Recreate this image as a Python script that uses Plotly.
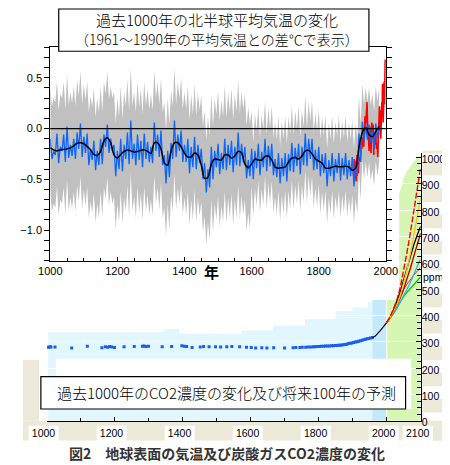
import numpy as np
import plotly.graph_objects as go

# ---------------- Top chart: NH temperature anomaly (deg C vs 1961-1990) ----------------
recon_years = list(range(1000, 1981, 5))
recon_annual = [
    -0.10, -0.30, -0.22, -0.26, -0.05, -0.34, -0.18, -0.22, -0.06, -0.33,
    0.02, -0.29, -0.16, -0.27, -0.10, -0.30, -0.04, -0.20, 0.05, -0.28,
    -0.08, -0.24, -0.05, -0.36, -0.20, -0.31, -0.12, -0.41, -0.22, -0.36,
    -0.10, -0.35, -0.06, -0.18, 0.04, -0.24, -0.10, -0.22, -0.16, -0.47,
    -0.22, -0.40, -0.10, -0.42, -0.16, -0.30, -0.04, -0.35, 0.08, -0.30,
    -0.15, -0.36, -0.06, -0.31, -0.12, -0.38, -0.05, -0.30, -0.13, -0.33,
    -0.18, -0.34, 0.06, -0.22, -0.06, -0.28, -0.02, -0.36, -0.26, -0.54,
    -0.22, -0.48, -0.14, -0.30, 0.08, -0.28, -0.06, -0.22, -0.02, -0.33,
    -0.16, -0.33, -0.10, -0.44, -0.18, -0.38, -0.08, -0.40, -0.16, -0.34,
    -0.20, -0.50, -0.34, -0.63, -0.40, -0.58, -0.18, -0.50, -0.22, -0.38,
    -0.15, -0.45, -0.24, -0.40, -0.10, -0.41, -0.16, -0.36, -0.12, -0.43,
    -0.18, -0.36, -0.04, -0.37, -0.15, -0.33, -0.18, -0.49, -0.31, -0.47,
    -0.20, -0.50, -0.22, -0.39, -0.15, -0.46, -0.23, -0.38, -0.10, -0.42,
    -0.17, -0.37, -0.15, -0.46, -0.30, -0.48, -0.24, -0.54, -0.29, -0.47,
    -0.24, -0.52, -0.25, -0.42, -0.14, -0.43, -0.19, -0.37, -0.15, -0.45,
    -0.18, -0.36, -0.05, -0.37, -0.10, -0.30, -0.10, -0.41, -0.21, -0.40,
    -0.18, -0.47, -0.25, -0.44, -0.24, -0.57, -0.31, -0.47, -0.24, -0.52,
    -0.30, -0.44, -0.24, -0.51, -0.29, -0.46, -0.24, -0.50, -0.31, -0.47,
    -0.28, -0.57, -0.32, -0.47, -0.05, -0.33, 0.07, -0.13, 0.04, -0.11,
    0.04, -0.14, -0.03, -0.20, 0.05, -0.10, 0.03,
]
smooth_years = list(range(1000, 1981, 10))
smooth_values = [
    -0.19, -0.21, -0.22, -0.21, -0.205, -0.20, -0.19, -0.17, -0.145, -0.14,
    -0.15, -0.175, -0.21, -0.255, -0.265, -0.225, -0.12, -0.09, -0.14, -0.26,
    -0.29, -0.255, -0.225, -0.21, -0.22, -0.23, -0.225, -0.215, -0.21, -0.225,
    -0.245, -0.14, -0.14, -0.20, -0.34, -0.36, -0.22, -0.14, -0.14, -0.18,
    -0.245, -0.28, -0.28, -0.24, -0.26, -0.36, -0.49, -0.48, -0.35, -0.30,
    -0.305, -0.31, -0.26, -0.26, -0.29, -0.27, -0.225, -0.24, -0.35, -0.385,
    -0.35, -0.30, -0.31, -0.31, -0.275, -0.27, -0.31, -0.38, -0.39, -0.385,
    -0.38, -0.33, -0.29, -0.285, -0.30, -0.27, -0.22, -0.215, -0.25, -0.30,
    -0.32, -0.34, -0.39, -0.39, -0.38, -0.37, -0.375, -0.375, -0.37, -0.38,
    -0.41, -0.39, -0.18, -0.04, 0.01, -0.06, -0.08, -0.03, 0.02,
]
instr_years = [1902, 1904, 1906, 1908, 1910, 1912, 1914, 1916, 1918, 1920,
               1922, 1924, 1926, 1928, 1930, 1932, 1934, 1936, 1938, 1940,
               1942, 1944, 1946, 1948, 1950, 1952, 1954, 1956, 1958, 1960,
               1962, 1964, 1966, 1968, 1970, 1972, 1974, 1976, 1978, 1980,
               1981, 1982, 1983, 1984, 1985, 1986, 1987, 1988, 1989, 1990,
               1991, 1992, 1993, 1994, 1995, 1996, 1997, 1998]
instr_values = [-0.38, -0.46, -0.30, -0.50, -0.44, -0.52, -0.26, -0.40, -0.44, -0.30,
                -0.28, -0.32, -0.14, -0.20, -0.12, -0.08, -0.18, -0.04, 0.12, 0.04,
                0.18, 0.26, -0.02, -0.06, -0.22, 0.02, -0.10, -0.24, 0.06, -0.02,
                0.04, -0.26, -0.08, -0.16, -0.04, -0.20, -0.16, -0.28, -0.06, 0.10,
                0.22, -0.02, 0.18, -0.06, -0.10, 0.08, 0.20, 0.26, 0.18, 0.44,
                0.34, 0.06, 0.12, 0.28, 0.46, 0.24, 0.46, 0.68]
unc_start_years = [1000, 1600]
unc_halfwidth = [0.52, 0.37]

temp_xticks = [1000, 1200, 1400, 1600, 1800, 2000]
temp_yticks = [-1.0, -0.5, 0.0, 0.5]
temp_yticktext = ["\u22121.0", "\u22120.5", "0.0", "0.5"]

# ---------------- Bottom chart: CO2 concentration (ppm) ----------------
co2_ice_years = [1006, 1010, 1013, 1025, 1074, 1120, 1163, 1173, 1180, 1186, 1192, 1200,
                 1228, 1258, 1282, 1287, 1292, 1300, 1340, 1368, 1398, 1405, 1412, 1428,
                 1452, 1462, 1478, 1497, 1512, 1530, 1545, 1568, 1588, 1602, 1615, 1633,
                 1648, 1668, 1700, 1725, 1733, 1745, 1752, 1762, 1770, 1778, 1785, 1790,
                 1796, 1802, 1808, 1815, 1820, 1826, 1832, 1838, 1843, 1848, 1853, 1858,
                 1863, 1868, 1873, 1878, 1883, 1888, 1893, 1898, 1903, 1908, 1913, 1918,
                 1923, 1928, 1933, 1938, 1943, 1948, 1953, 1958]
co2_ice_ppm = [279, 281, 280, 280, 276, 283, 277, 281, 279, 282, 280, 278,
               281, 282, 283, 284, 282, 283, 281, 282, 285, 283, 282, 278,
               280, 282, 281, 281, 280, 281, 282, 281, 279, 278, 276, 277,
               276, 277, 276, 277, 278, 278, 279, 279, 280, 280, 281, 281,
               282, 282, 283, 283, 284, 284, 284, 285, 285, 286, 286, 287,
               287, 288, 289, 290, 291, 293, 294, 295, 297, 299, 300, 302,
               304, 306, 308, 310, 311, 312, 314, 316]
co2_obs_years = [1958, 1965, 1970, 1975, 1980, 1985, 1990, 1995, 2000]
co2_obs_ppm = [316, 320, 326, 332, 340, 348, 356, 364, 373]

scen_years = [2000, 2010, 2020, 2030, 2040, 2050, 2060, 2070, 2080, 2090, 2100]
scen_a1fi = [373, 394, 424, 458, 505, 570, 640, 715, 792, 876, 962]
scen_a2 = [373, 391, 414, 440, 474, 522, 575, 635, 702, 772, 845]
scen_a1b = [373, 392, 420, 452, 490, 534, 580, 625, 668, 705, 738]
scen_is92a = [373, 390, 412, 437, 466, 500, 538, 580, 625, 668, 712]
scen_b2 = [373, 388, 406, 426, 449, 473, 499, 526, 555, 585, 615]
scen_a1t = [373, 392, 417, 445, 473, 498, 519, 537, 553, 568, 582]
scen_b1 = [373, 390, 410, 430, 452, 471, 488, 503, 517, 530, 546]

# background regions of the CO2 panel
past_band_years = [1005, 1300, 1345, 1390, 1480, 1575, 1665, 1760, 1850, 1900, 1945, 1958]
past_band_top = [336, 336, 348, 330, 329, 343, 361, 385, 417, 430, 448, 448]
recent_band_years = [1958, 2000]
recent_band_top = 459
future_years = [2000, 2000, 2037, 2037, 2045, 2050, 2060, 2072, 2085, 2092, 2100, 2100]
future_top = [0, 459, 459, 860, 895, 922, 948, 970, 992, 1002, 1006, 0]

co2_xticks = [1000, 1200, 1400, 1600, 1800, 2000, 2100]
co2_yticks = list(range(0, 1001, 100))

# ---------------- geometry helpers (pixels -> paper) ----------------
W, H = 450, 465
def px(x):
    return x / W
def py(y):
    return 1 - y / H

CO2_L, CO2_R, CO2_B, CO2_T = 25, 423, 420, 148
TMP_L, TMP_R, TMP_B, TMP_T = 29, 386, 257, 40
CO2_YMAX = 1015

def co2_year_px(yr):
    return CO2_L + (yr - 1000) / 1100 * (CO2_R - CO2_L)

BEIGE = "#ece9d8"
JP = "Noto Sans CJK JP"
NUM = "Liberation Sans"

fig = go.Figure()

# ---- CO2 panel traces (xy) ----
fig.add_trace(go.Scatter(x=co2_ice_years, y=co2_ice_ppm, mode="markers",
                         marker=dict(symbol="square", size=3, color="#1a5ef0", line=dict(width=0)),
                         xaxis="x", yaxis="y", hoverinfo="skip"))
fig.add_trace(go.Scatter(x=co2_obs_years, y=co2_obs_ppm, mode="lines",
                         line=dict(color="black", width=1.2), xaxis="x", yaxis="y", hoverinfo="skip"))
scen_specs = [
    (scen_b1, "#00c800", "solid", 1.2),
    (scen_a1t, "#ff2020", "solid", 1.0),
    (scen_b2, "#30a8ff", "solid", 1.2),
    (scen_is92a, "#c00000", "solid", 1.4),
    (scen_a1b, "#000000", "solid", 1.3),
    (scen_a2, "#ffc000", "solid", 1.3),
    (scen_a1fi, "#ff0000", "6px,2px", 1.4),
]
for vals, col, dash, wd in scen_specs:
    fig.add_trace(go.Scatter(x=scen_years, y=vals, mode="lines",
                             line=dict(color=col, width=wd, dash=dash),
                             xaxis="x", yaxis="y", hoverinfo="skip"))

# ---- Temperature panel traces (x2y2) ----
hw = [unc_halfwidth[int(np.searchsorted(unc_start_years, yr, side="right")) - 1] for yr in recon_years]
lower = [v - h for v, h in zip(recon_annual, hw)]
upper = [v + h for v, h in zip(recon_annual, hw)]
fig.add_trace(go.Scatter(x=recon_years, y=lower, mode="lines", line=dict(width=0, color="#c0c0c0"),
                         xaxis="x2", yaxis="y2", hoverinfo="skip"))
fig.add_trace(go.Scatter(x=recon_years, y=upper, mode="lines", line=dict(width=0, color="#c0c0c0"),
                         fill="tonexty", fillcolor="#c0c0c0", xaxis="x2", yaxis="y2", hoverinfo="skip"))
fig.add_trace(go.Scatter(x=instr_years, y=instr_values, mode="lines",
                         line=dict(color="#ff0000", width=1.6), xaxis="x2", yaxis="y2", hoverinfo="skip"))
fig.add_trace(go.Scatter(x=recon_years, y=recon_annual, mode="lines",
                         line=dict(color="#0a66ff", width=1.3), xaxis="x2", yaxis="y2", hoverinfo="skip"))
fig.add_trace(go.Scatter(x=smooth_years, y=smooth_values, mode="lines",
                         line=dict(color="black", width=1.5, shape="spline", smoothing=0.8),
                         xaxis="x2", yaxis="y2", hoverinfo="skip"))

shapes = []
# beige strips (screenshot background)
for x0, x1, y0, y1 in [(0, 17, 358, 420), (0, 450, 420, 440), (425, 450, 145, 440)]:
    shapes.append(dict(type="rect", xref="paper", yref="paper", x0=px(x0), x1=px(x1),
                       y0=py(y1), y1=py(y0), fillcolor=BEIGE, line=dict(width=0), layer="below"))
# white label boxes on beige
for t in co2_yticks:
    shapes.append(dict(type="rect", xref="paper", yref="y", x0=px(426), x1=px(450),
                       y0=t - 17, y1=t + 31, fillcolor="white", line=dict(width=0), layer="below"))
for t in co2_xticks:
    cx = co2_year_px(t) - 3
    shapes.append(dict(type="rect", xref="paper", yref="paper", x0=px(cx - 16), x1=px(cx + 16),
                       y0=py(441), y1=py(425), fillcolor="white", line=dict(width=0), layer="below"))
# CO2 background regions (under white grid)
path = "M %g,0" % past_band_years[0]
for i, yr in enumerate(past_band_years):
    path += " L %g,%g" % (yr, past_band_top[i])
    nxt = past_band_years[i + 1] if i + 1 < len(past_band_years) else yr
    path += " L %g,%g" % (nxt, past_band_top[i])
path += " L %g,0 Z" % past_band_years[-1]
shapes.append(dict(type="path", xref="x", yref="y", path=path, fillcolor="#e2f6fd",
                   line=dict(width=0), layer="below"))
shapes.append(dict(type="rect", xref="x", yref="y", x0=recent_band_years[0], x1=recent_band_years[1],
                   y0=0, y1=recent_band_top, fillcolor="#c4e9fa", line=dict(width=0), layer="below"))
fpath = "M " + " L ".join("%g,%g" % (a, b) for a, b in zip(future_years, future_top)) + " Z"
shapes.append(dict(type="path", xref="x", yref="y", path=fpath, fillcolor="#d6f6b4",
                   line=dict(width=0), layer="below"))
shapes.append(dict(type="line", xref="x", yref="y", x0=2000, x1=2000, y0=0, y1=recent_band_top,
                   line=dict(color="white", width=1), layer="between"))
# white area and CO2 caption box
shapes.append(dict(type="rect", xref="paper", yref="paper", x0=px(35), x1=px(413), y0=py(408), y1=py(357),
                   fillcolor="white", line=dict(width=0), layer="above"))
shapes.append(dict(type="rect", xref="paper", yref="paper", x0=px(19), x1=px(407), y0=py(408), y1=py(375),
                   fillcolor="white", line=dict(color="black", width=1.2), layer="above"))
# zero line of temperature panel
shapes.append(dict(type="line", xref="x2 domain", yref="y2", x0=0, x1=1, y0=0, y1=0,
                   line=dict(color="black", width=1.2), layer="above"))
# temperature title box
shapes.append(dict(type="rect", xref="paper", yref="paper", x0=px(38), x1=px(368), y0=py(44), y1=py(1),
                   fillcolor="white", line=dict(color="black", width=1.2), layer="above"))

annotations = [
    dict(text="過去1000年の北半球平均気温の変化", x=px(206), y=py(12), xref="paper", yref="paper",
         showarrow=False, font=dict(family=JP, size=15, color="black", weight=300), xanchor="center", yanchor="middle"),
    dict(text="（1961～1990年の平均気温との差℃で表示）", x=px(206), y=py(32), xref="paper", yref="paper",
         showarrow=False, font=dict(family=JP, size=14, color="black", weight=300), xanchor="center", yanchor="middle"),
    dict(text="年", x=px(200), y=py(268), xref="paper", yref="paper", showarrow=False,
         font=dict(family=JP, size=15, color="black", weight="bold"), xanchor="center", yanchor="middle"),
    dict(text="ppm", x=px(437), y=547, xref="paper", yref="y", showarrow=False, bgcolor="white",
         font=dict(family=NUM, size=10.5, color="black"), xanchor="center", yanchor="middle",
         borderpad=0),
    dict(text="過去1000年のCO2濃度の変化及び将来100年の予測", x=px(217), y=py(391), xref="paper", yref="paper",
         showarrow=False, font=dict(family=JP, size=15, color="black", weight=300), xanchor="center", yanchor="middle"),
    dict(text="図2　地球表面の気温及び炭酸ガスCO2濃度の変化", x=px(217), y=py(453), xref="paper", yref="paper",
         showarrow=False, font=dict(family=JP, size=14, color="#333333", weight="bold"), xanchor="center", yanchor="middle"),
]

tickfont = dict(family=NUM, size=11, color="black")
rtickfont = dict(family=NUM, size=10.5, color="black")
fig.update_layout(
    width=W, height=H, margin=dict(l=0, r=0, t=0, b=0),
    paper_bgcolor="white", plot_bgcolor="rgba(0,0,0,0)", showlegend=False,
    shapes=shapes, annotations=annotations,
    xaxis=dict(domain=[px(CO2_L), px(CO2_R)], range=[1000, 2100], anchor="y",
               showline=True, linecolor="black", linewidth=1, showgrid=False, zeroline=False,
               tickmode="array", tickvals=co2_xticks, ticks="inside", ticklen=4, tickcolor="black",
               minor=dict(dtick=100, tick0=1000, ticks="inside", ticklen=3, tickcolor="black", showgrid=False),
               tickfont=rtickfont, ticklabelstandoff=3, ticklabelshift=-3),
    yaxis=dict(domain=[py(CO2_B), py(CO2_T)], range=[0, CO2_YMAX], anchor="x", side="right",
               showline=True, linecolor="black", linewidth=1, zeroline=False,
               showgrid=True, gridcolor="white", gridwidth=1,
               tickmode="array", tickvals=co2_yticks, ticks="inside", ticklen=5, tickcolor="black",
               minor=dict(dtick=25, tick0=0, ticks="inside", ticklen=4, tickcolor="black", showgrid=False),
               tickfont=rtickfont, ticklabelstandoff=-2, ticklabelshift=2),
    xaxis2=dict(domain=[px(TMP_L), px(TMP_R)], range=[1000, 2000], anchor="y2",
                showline=True, mirror=True, linecolor="black", linewidth=1, showgrid=False, zeroline=False,
                tickmode="array", tickvals=temp_xticks, ticks="inside", ticklen=4, tickcolor="black",
                minor=dict(dtick=50, tick0=1000, ticks="inside", ticklen=3, tickcolor="black", showgrid=False),
                tickfont=tickfont),
    yaxis2=dict(domain=[py(TMP_B), py(TMP_T)], range=[-1.3, 0.8], anchor="x2",
                showline=True, mirror="ticks", linecolor="black", linewidth=1, showgrid=False, zeroline=False,
                tickmode="array", tickvals=temp_yticks, ticktext=temp_yticktext,
                ticks="outside", ticklen=5, tickcolor="black",
                minor=dict(dtick=0.1, tick0=0, ticks="outside", ticklen=5, tickcolor="black", showgrid=False),
                tickfont=tickfont),
)

fig.write_html("out.html")
